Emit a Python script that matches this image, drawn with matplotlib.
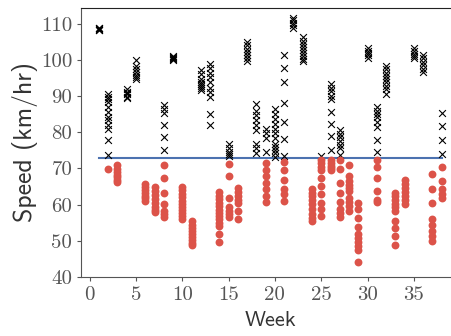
import matplotlib
matplotlib.use("Agg")
import matplotlib.pyplot as plt
import numpy as np

# speeds (km/hr) recorded each week
speeds = {
    1: [108.2, 108.5, 108.8, 109.0, 108.4],
    2: [90.6, 89.8, 89.2, 88.3, 87.0, 85.6, 84.2, 83.3, 82.1, 81.0, 77.8, 73.7, 69.8],
    3: [71.0, 69.8, 69.0, 68.3, 67.6, 66.9, 66.3],
    4: [92.0, 91.3, 90.5, 89.8, 89.4, 90.9],
    5: [100.0, 98.3, 97.5, 96.8, 96.0, 95.3, 94.8],
    6: [65.8, 64.8, 64.0, 63.2, 62.4, 61.7, 61.1],
    7: [64.9, 63.8, 62.7, 61.5, 60.4, 59.4, 58.5, 57.9],
    8: [87.6, 86.6, 85.3, 82.1, 78.8, 75.1, 70.9, 67.3, 63.3, 60.3, 58.3, 57.4, 56.5],
    9: [101.0, 100.6, 100.3, 100.0, 100.8],
    10: [65.0, 64.0, 63.0, 62.0, 61.0, 60.2, 59.3, 58.5, 57.6, 56.8, 56.0],
    11: [55.4, 54.3, 53.4, 52.6, 51.8, 51.0, 50.2, 49.4, 48.8],
    12: [97.3, 96.2, 94.8, 94.0, 93.4, 92.8, 92.2, 91.7],
    13: [98.8, 97.9, 96.5, 95.2, 93.8, 92.4, 91.1, 89.7, 85.1, 81.9],
    14: [63.6, 62.5, 61.5, 60.5, 59.5, 58.6, 57.7, 56.8, 55.9, 55.0, 54.1, 51.9, 49.6],
    15: [76.9, 75.6, 74.6, 74.0, 73.5, 71.3, 68.0, 61.9, 59.4, 58.3, 57.5, 56.7],
    16: [64.6, 63.5, 62.4, 61.4, 60.5, 58.3, 56.0],
    17: [105.1, 104.2, 103.2, 102.3, 101.3, 100.5, 99.8],
    18: [87.9, 86.0, 84.7, 83.3, 81.9, 80.6, 76.9, 75.6, 74.2],
    19: [81.0, 79.7, 78.3, 74.6, 71.4, 69.6, 67.9, 66.1, 64.3, 62.5, 60.8],
    20: [86.5, 85.1, 83.7, 82.4, 81.0, 79.7, 78.3, 76.9, 76.0, 75.1, 74.2, 73.3],
    21: [101.5, 97.9, 93.8, 88.0, 82.8, 78.1, 73.4, 71.9, 69.6, 66.9, 64.2, 62.8, 61.0],
    22: [111.6, 111.0, 110.3, 109.6, 109.0],
    23: [106.5, 105.4, 104.5, 103.6, 102.7, 101.9, 101.0, 100.3, 99.7],
    24: [64.2, 63.2, 62.3, 61.3, 60.2, 58.7, 57.5, 56.4, 55.5],
    25: [73.5, 72.3, 71.4, 70.5, 69.6, 67.5, 65.1, 62.8, 60.5, 58.7, 56.9],
    26: [93.3, 92.4, 91.5, 90.1, 89.2, 85.6, 82.4, 78.9, 75.1, 72.3, 71.5, 70.8, 70.2, 69.6],
    27: [80.6, 79.6, 78.6, 77.5, 76.4, 75.6, 73.7, 72.3, 69.9, 66.0, 63.3, 60.8, 58.7, 57.6, 56.6],
    28: [71.0, 67.8, 66.6, 65.5, 64.5, 63.7, 61.9, 60.8, 59.6, 58.3],
    29: [60.5, 58.7, 56.4, 53.9, 51.9, 50.8, 49.7, 48.5, 47.4, 44.1],
    30: [103.3, 102.6, 102.0, 101.4, 100.6],
    31: [86.9, 86.0, 85.1, 84.2, 82.9, 81.5, 77.8, 74.6, 72.3, 70.5, 67.5, 63.7, 61.4, 60.6],
    32: [98.3, 97.4, 96.5, 95.6, 94.7, 93.8, 92.9, 92.0, 90.6],
    33: [63.3, 62.3, 61.3, 60.3, 59.3, 58.2, 55.5, 53.4, 51.4, 48.7],
    34: [66.9, 65.6, 64.5, 63.4, 62.3, 61.2, 60.3],
    35: [103.4, 102.6, 101.8, 101.2, 100.6],
    36: [101.5, 100.5, 99.6, 98.6, 97.6, 96.6],
    37: [68.6, 64.2, 60.5, 56.0, 54.3, 52.8, 51.3, 50.0],
    38: [85.4, 81.7, 77.8, 73.9, 70.5, 66.5, 64.2, 63.0, 61.8],
}
limit = 72.8

weeks = np.concatenate([[w] * len(v) for w, v in speeds.items()])
vals = np.concatenate([v for v in speeds.values()])
fast = vals > limit

fig = plt.figure(figsize=(4.52, 3.36), dpi=100)
ax = fig.add_axes([0.18, 0.176, 0.835, 0.8])

ax.scatter(weeks[fast], vals[fast], marker="x", c="black", s=24, linewidths=0.8, zorder=3)
ax.scatter(weeks[~fast], vals[~fast], marker="o", c="#dc5349", s=32, linewidths=0, zorder=3)
ax.plot([weeks.min(), weeks.max()], [limit, limit], color="#4c72b0", lw=1.5, zorder=2)

ax.set_xlim(-0.9, 39.85)
ax.set_ylim(40, 114.4)
ax.set_xticks(range(0, 36, 5))
ax.set_yticks(range(40, 111, 10))

ax.tick_params(labelsize=15, labelfontfamily="cmr10", colors="#555555", length=3, width=0.8)
ax.set_xlabel("Week", fontfamily="cmss10", fontsize=16, color="#333333", labelpad=5)
ax.set_ylabel("Speed (km/hr)", fontfamily="cmss10", fontsize=18.5, color="#333333", labelpad=2)

for s in ["left", "bottom"]:
    ax.spines[s].set_color("#555555")
ax.spines["top"].set_color("#222222")
ax.spines["right"].set_visible(False)

plt.savefig("out.png", dpi=100)
